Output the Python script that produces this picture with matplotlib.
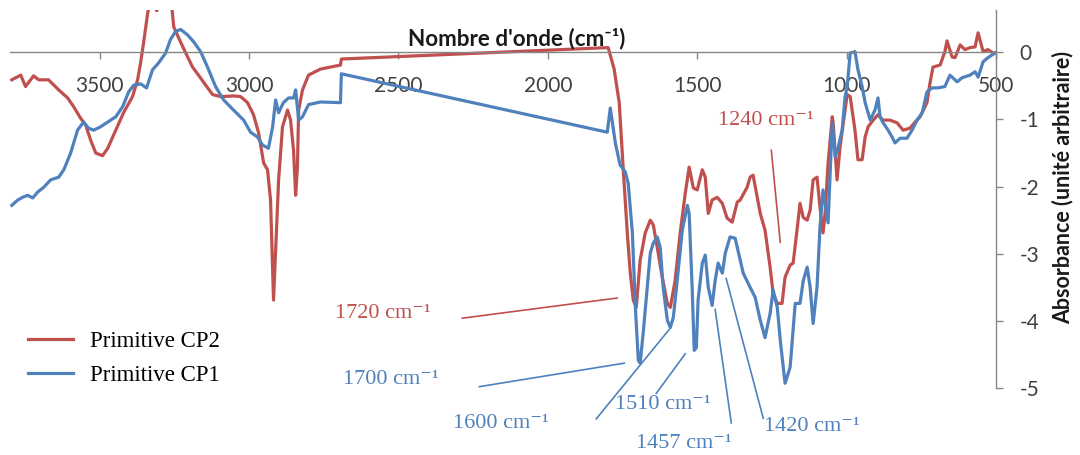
import matplotlib
matplotlib.use('Agg')
import matplotlib.pyplot as plt

# wavenumber (cm-1) / absorbance, Primitive CP2
cp2_wn = [3794, 3764, 3748, 3721, 3704, 3671, 3637, 3607, 3587, 3564, 3547, 3530,
          3513, 3490, 3473, 3446, 3420, 3390, 3373, 3363, 3353, 3339, 3329, 3319,
          3309, 3296, 3276, 3259, 3252, 3236, 3212, 3189, 3169, 3145, 3122, 3095,
          3052, 3028, 3005, 2985, 2968, 2951, 2938, 2928, 2918, 2901, 2888, 2871,
          2861, 2851, 2844, 2838, 2834, 2821, 2801, 2761, 2694, 2691, 1798, 1778,
          1761, 1748, 1734, 1724, 1714, 1704, 1691, 1674, 1657, 1647, 1634, 1617,
          1600, 1590, 1574, 1557, 1540, 1527, 1513, 1500, 1483, 1473, 1463, 1450,
          1433, 1416, 1400, 1383, 1366, 1356, 1333, 1323, 1313, 1299, 1289, 1273,
          1256, 1246, 1232, 1216, 1206, 1189, 1179, 1166, 1156, 1145, 1132, 1122,
          1112, 1099, 1089, 1079, 1072, 1062, 1048, 1045, 1032, 1022, 1005, 998,
          988, 972, 962, 948, 938, 928, 911, 895, 878, 855, 831, 811, 788, 771,
          754, 731, 721, 711, 687, 671, 664, 647, 637, 620, 604, 587, 570, 560,
          543, 527, 510, 503]
cp2_abs = [-0.41, -0.34, -0.51, -0.35, -0.41, -0.41, -0.56, -0.68, -0.81, -0.98, -1.08, -1.31,
           -1.50, -1.54, -1.43, -1.16, -0.90, -0.66, -0.41, -0.16, 0.14, 0.59, 0.80, 0.75,
           0.62, 0.75, 0.82, 0.70, 0.38, 0.22, -0.01, -0.22, -0.34, -0.49, -0.63, -0.66,
           -0.65, -0.66, -0.75, -0.93, -1.20, -1.65, -1.75, -2.20, -3.69, -1.90, -1.11, -0.86,
           -1.01, -1.46, -2.13, -1.71, -0.86, -0.56, -0.34, -0.25, -0.19, -0.10, 0.07, -0.25,
           -0.75, -1.71, -2.69, -3.29, -3.69, -3.80, -3.10, -2.69, -2.50, -2.57, -2.90, -3.35,
           -3.74, -3.80, -3.40, -2.69, -2.10, -1.71, -2.02, -2.05, -1.75, -1.86, -2.40, -2.20,
           -2.16, -2.25, -2.47, -2.53, -2.23, -2.20, -2.01, -1.86, -1.83, -2.16, -2.40, -2.65,
           -3.20, -3.59, -3.74, -3.74, -3.35, -3.17, -3.14, -2.65, -2.25, -2.46, -2.50, -2.35,
           -1.90, -1.86, -2.31, -2.69, -2.40, -1.65, -0.96, -1.05, -1.90, -1.41, -0.86, -0.63,
           -0.66, -1.16, -1.60, -1.60, -1.26, -1.11, -1.01, -0.93, -1.01, -1.01, -1.05, -1.16, -1.13, -1.04,
           -0.96, -0.75, -0.46, -0.22, -0.19, 0.01, 0.17, -0.07, -0.08, 0.11, 0.04, 0.07, 0.08, 0.29,
           0.01, 0.04, -0.01, -0.01]

# wavenumber (cm-1) / absorbance, Primitive CP1
cp1_wn = [3794, 3774, 3758, 3741, 3724, 3707, 3687, 3664, 3637, 3620, 3597, 3574,
          3554, 3537, 3520, 3497, 3473, 3446, 3423, 3403, 3386, 3363, 3343, 3323,
          3303, 3279, 3263, 3246, 3229, 3206, 3186, 3162, 3139, 3112, 3085, 3052,
          3018, 2995, 2972, 2955, 2935, 2921, 2911, 2901, 2885, 2868, 2851, 2844,
          2834, 2821, 2801, 2761, 2694, 2691, 1801, 1791, 1774, 1758, 1741, 1731,
          1717, 1707, 1697, 1691, 1681, 1667, 1657, 1647, 1634, 1624, 1614, 1600,
          1590, 1580, 1567, 1550, 1533, 1527, 1517, 1510, 1503, 1497, 1483, 1473,
          1463, 1450, 1440, 1430, 1416, 1406, 1390, 1373, 1356, 1346, 1323, 1306,
          1289, 1273, 1256, 1246, 1232, 1222, 1206, 1189, 1172, 1156, 1145, 1132,
          1122, 1112, 1099, 1089, 1079, 1062, 1048, 1038, 1028, 1015, 1005, 998,
          988, 972, 962, 948, 938, 921, 905, 895, 888, 878, 861, 848, 838, 821,
          798, 781, 764, 747, 731, 714, 694, 671, 654, 630, 614, 587, 570, 560,
          543, 527, 503]
cp1_abs = [-2.28, -2.20, -2.16, -2.13, -2.17, -2.08, -2.01, -1.90, -1.86, -1.75, -1.50, -1.16,
           -1.04, -1.13, -1.16, -1.11, -1.04, -0.96, -0.81, -0.59, -0.49, -0.47, -0.53, -0.26,
           -0.16, -0.01, 0.19, 0.31, 0.34, 0.26, 0.16, 0.01, -0.22, -0.51, -0.71, -0.86,
           -1.01, -1.19, -1.26, -1.38, -1.43, -1.11, -0.71, -0.90, -0.75, -0.68, -0.68, -0.56,
           -1.01, -0.96, -0.78, -0.74, -0.75, -0.32, -1.19, -0.83, -1.35, -1.68, -1.78, -1.95,
           -2.69, -3.80, -4.59, -4.63, -4.19, -3.50, -2.99, -2.84, -2.75, -2.90, -3.50, -3.99,
           -4.10, -3.95, -3.40, -2.65, -2.28, -2.40, -3.50, -4.44, -4.40, -3.69, -3.14, -3.02,
           -3.50, -3.77, -3.40, -3.14, -3.29, -2.99, -2.75, -2.77, -3.10, -3.29, -3.50, -3.65,
           -3.99, -4.25, -3.89, -3.54, -3.80, -4.29, -4.93, -4.69, -3.74, -3.74, -3.40, -3.20,
           -3.50, -4.04, -3.50, -2.60, -2.05, -2.54, -1.05, -1.56, -1.41, -1.16, -0.66, -0.51,
           -0.01, 0.01, -0.26, -0.51, -0.75, -1.01, -0.86, -0.68, -0.96, -1.05, -1.16, -1.26, -1.35, -1.28,
           -1.28, -1.16, -1.01, -0.90, -0.59, -0.53, -0.53, -0.51, -0.34, -0.44, -0.38, -0.34, -0.29, -0.37,
           -0.14, -0.08, -0.01]

x_ticks = [3500, 3000, 2500, 2000, 1500, 1000, 500]
y_ticks = [0, -1, -2, -3, -4, -5]

# band labels: text, colour, text anchor (wn, abs), leader line start / end (wn, abs)
bands = [
    ('1720 cm\u207b\u00b9', 'red', (2711, -3.89), (2286, -3.96), (1768, -3.66)),
    ('1240 cm\u207b\u00b9', 'red', (1430, -1.01), (1252, -1.46), (1222, -2.83)),
    ('1700 cm\u207b\u00b9', 'blue', (2684, -4.87), (2229, -4.98), (1744, -4.63)),
    ('1600 cm\u207b\u00b9', 'blue', (2319, -5.53), (1838, -5.46), (1594, -4.13)),
    ('1510 cm\u207b\u00b9', 'blue', (1774, -5.25), (1637, -5.08), (1540, -4.49)),
    ('1457 cm\u207b\u00b9', 'blue', (1704, -5.83), (1386, -5.52), (1440, -3.83)),
    ('1420 cm\u207b\u00b9', 'blue', (1276, -5.57), (1279, -5.45), (1403, -3.37)),
]

red = '#C0504D'
blue = '#4F81BD'
axis_grey = '#868686'
colours = {'red': red, 'blue': blue}

plt.rcParams['axes.unicode_minus'] = False
sans = ['Lato', 'DejaVu Sans']
serif = ['Liberation Serif', 'DejaVu Serif']

fig, ax = plt.subplots(figsize=(10.8, 4.55), dpi=100)
fig.subplots_adjust(left=10/1080, right=996/1080, bottom=1-388/455, top=1-10/455)

ax.plot(cp2_wn, cp2_abs, color=red, lw=2.3, label='Primitive CP2')
ax.plot(cp1_wn, cp1_abs, color=blue, lw=2.3, label='Primitive CP1')

ax.set_xlim(3800, 500)
ax.set_ylim(-5, 0.63)

# x axis drawn through zero, y axis on the right
ax.spines['bottom'].set_position(('data', 0))
ax.spines['left'].set_visible(False)
ax.spines['top'].set_visible(False)
for side in ['bottom', 'right']:
    ax.spines[side].set_color(axis_grey)
    ax.spines[side].set_linewidth(1.0)
ax.yaxis.tick_right()

ax.set_xticks(x_ticks)
ax.set_xticklabels([str(t) for t in x_ticks])
ax.set_yticks(y_ticks)
ax.set_yticklabels([str(t) for t in y_ticks])
ax.tick_params(axis='both', direction='out', length=5, width=1, color=axis_grey,
               labelsize=15, labelcolor='#404040', pad=12)
for lab in ax.get_xticklabels() + ax.get_yticklabels():
    lab.set_family(sans)

fig.text(517/1080, 1-45/455, 'Nombre d\'onde (cm\u207b\u00b9)', ha='center', va='baseline',
         fontsize=16.2, fontweight='bold', family=sans, color='#1a1a1a')
fig.text(1063/1080, 1-187/455, 'Absorbance (unité arbitraire)', rotation=90,
         ha='center', va='center', fontsize=15.5, fontweight='bold', family=sans, color='#1a1a1a')

for text, c, txt_pos, p0, p1 in bands:
    ax.text(txt_pos[0], txt_pos[1], text, color=colours[c], fontsize=16, family=serif,
            ha='left', va='center', clip_on=False)
    ax.plot([p0[0], p1[0]], [p0[1], p1[1]], color=colours[c], lw=1.2, clip_on=False)

handles, labels = ax.get_legend_handles_labels()
leg = ax.legend(handles, labels, loc='upper left', bbox_to_anchor=(28/1080, 1-331/455),
                bbox_transform=fig.transFigure, frameon=False, borderpad=0, borderaxespad=0,
                handlelength=1.95, handletextpad=0.75, labelspacing=0.58,
                prop={'family': serif, 'size': 16.5})

fig.savefig('out.png', dpi=100)
